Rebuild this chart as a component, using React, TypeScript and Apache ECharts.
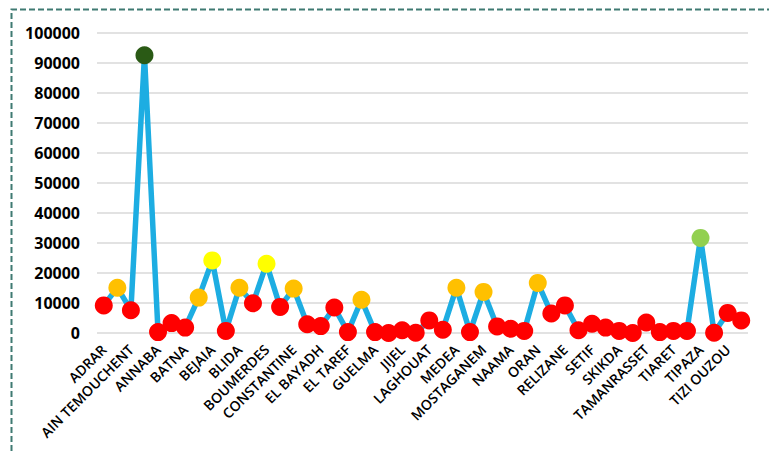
import React, { useEffect, useRef } from "react";
import * as echarts from "echarts";

const categories: string[] = [
  "ADRAR", "AIN DEFLA", "AIN TEMOUCHENT", "ALGER", "ANNABA", "B.B.ARRERIDJ", "BATNA", "BECHAR",
  "BEJAIA", "BISKRA", "BLIDA", "BOUIRA", "BOUMERDES", "CHLEF", "CONSTANTINE", "DJELFA",
  "EL BAYADH", "EL OUED", "EL TAREF", "GHARDAIA", "GUELMA", "ILLIZI", "JIJEL", "KHENCHELA",
  "LAGHOUAT", "MASCARA", "MEDEA", "MILA", "MOSTAGANEM", "M'SILA", "NAAMA", "O.E.BOUAGHI",
  "ORAN", "OUARGLA", "RELIZANE", "SAIDA", "SETIF", "SIDI BEL ABBES", "SKIKDA", "SOUK AHRAS",
  "TAMANRASSET", "TEBESSA", "TIARET", "TINDOUF", "TIPAZA", "TISSEMSILT", "TIZI OUZOU", "TLEMCEN",
];

const values: number[] = [
  9200, 15100, 7600, 92600, 300, 3300, 1800, 11800,
  24200, 700, 15100, 9900, 23100, 8700, 14800, 2900,
  2300, 8500, 300, 11100, 300, 0, 900, 100,
  4200, 1100, 15100, 300, 13700, 2200, 1400, 700,
  16700, 6500, 9200, 900, 3100, 1800, 700, 0,
  3500, 300, 700, 700, 31700, 100, 6700, 4200,
];

const thresholds: number[] = [10000, 20000, 30000, 80000];
const pointColors: string[] = ["#FF0000", "#FFC000", "#FFFF00", "#92D050", "#2A5A15"];

function colorFor(v: number): string {
  let i = 0;
  while (i < thresholds.length && v >= thresholds[i]) i++;
  return pointColors[i];
}

export default function App() {
  const ref = useRef<HTMLDivElement>(null);
  useEffect(() => {
    if (!ref.current) return;
    const chart = echarts.init(ref.current, null, { renderer: "svg" });
    chart.setOption({
      animation: false,
      backgroundColor: "#FFFFFF",
      graphic: [
        {
          type: "polyline",
          shape: { points: [[11.5, 460], [11.5, 9.5], [780, 9.5]] },
          style: { fill: "none", stroke: "#3F7A72", lineWidth: 2, lineDash: [6, 3] },
          silent: true,
        },
      ],
      grid: { left: 97, right: 21, top: 33, bottom: 119, containLabel: false },
      xAxis: {
        type: "category",
        data: categories,
        boundaryGap: true,
        axisLine: { show: false },
        axisTick: { show: false },
        axisLabel: {
          interval: 1,
          rotate: 45,
          margin: 14,
          color: "#000000",
          fontFamily: "Open Sans",
          fontWeight: 600,
          fontSize: 14,
        },
      },
      yAxis: {
        type: "value",
        min: 0,
        max: 100000,
        interval: 10000,
        axisLine: { show: false },
        axisTick: { show: false },
        splitLine: { lineStyle: { color: "#D9D9D9", width: 1.5 } },
        axisLabel: {
          margin: 17,
          color: "#000000",
          fontFamily: "Open Sans",
          fontWeight: 700,
          fontSize: 16,
          formatter: (v: number) => String(v),
        },
      },
      series: [
        {
          type: "line",
          data: values,
          symbol: "circle",
          symbolSize: 18,
          showAllSymbol: true,
          lineStyle: { color: "#1DADE2", width: 5.5 },
          itemStyle: {
            color: (p: any) => colorFor(p.value as number),
            borderWidth: 0,
          },
          z: 3,
        },
      ],
    });
    return () => chart.dispose();
  }, []);
  return (
    <div
      ref={ref}
      style={{ position: "absolute", left: 0, top: 0, width: 769, height: 452 }}
    />
  );
}
